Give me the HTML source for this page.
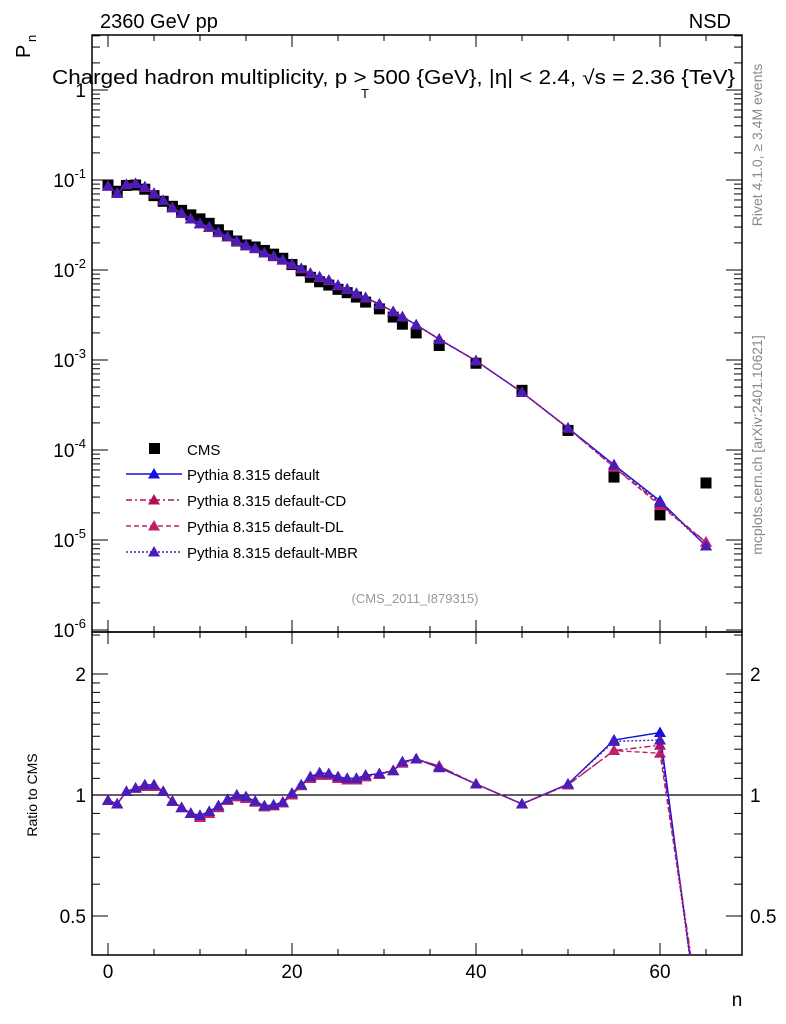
<!DOCTYPE html>
<html><head><meta charset="utf-8"><style>
html,body{margin:0;padding:0;background:#fff;width:786px;height:1024px;overflow:hidden}
svg{display:block;font-family:"Liberation Sans",sans-serif}
</style></head><body>
<svg id="c" width="786" height="1024" viewBox="0 0 786 1024" xmlns="http://www.w3.org/2000/svg"></svg>
<script>
const nBins=[0,1,2,3,4,5,6,7,8,9,10,11,12,13,14,15,16,17,18,19,20,21,22,23,24,25,26,27,28,29.5,31,32,33.5,36,40,45,50,55,60,65];
const cmsVals=[0.088,0.075,0.087,0.088,0.079,0.067,0.058,0.051,0.046,0.041,0.037,0.033,0.028,0.024,0.021,0.019,0.018,0.0165,0.015,0.0135,0.0115,0.0098,0.0083,0.0074,0.0068,0.0061,0.0056,0.0050,0.0044,0.0037,0.0030,0.0025,0.0020,0.00145,0.00092,0.00046,0.000165,0.000050,0.000019,0.000043];
const ratioDefault=[0.97,0.95,1.02,1.04,1.06,1.06,1.02,0.965,0.93,0.90,0.89,0.91,0.94,0.975,1.0,0.99,0.965,0.94,0.945,0.96,1.01,1.06,1.11,1.135,1.13,1.11,1.10,1.10,1.12,1.13,1.15,1.21,1.23,1.17,1.065,0.95,1.065,1.37,1.43,0.20];
const ratioCD=[0.97,0.95,1.02,1.04,1.05,1.05,1.02,0.965,0.93,0.90,0.88,0.90,0.93,0.97,0.99,0.98,0.96,0.935,0.94,0.955,1.0,1.055,1.10,1.12,1.12,1.10,1.09,1.09,1.11,1.125,1.15,1.20,1.23,1.18,1.065,0.95,1.06,1.29,1.33,0.22];
const ratioDL=[0.97,0.95,1.02,1.04,1.05,1.05,1.02,0.965,0.93,0.90,0.88,0.90,0.93,0.97,0.99,0.98,0.96,0.935,0.94,0.955,1.0,1.055,1.10,1.12,1.12,1.10,1.09,1.09,1.11,1.125,1.15,1.20,1.23,1.18,1.065,0.95,1.06,1.29,1.27,0.22];
const ratioMBR=[0.97,0.95,1.02,1.04,1.06,1.06,1.02,0.965,0.93,0.90,0.89,0.91,0.94,0.975,1.0,0.99,0.965,0.94,0.945,0.96,1.01,1.06,1.11,1.135,1.13,1.11,1.10,1.10,1.12,1.13,1.15,1.21,1.23,1.17,1.065,0.95,1.065,1.36,1.37,0.20];
const xTicks=[0,20,40,60];
const mainTickExps=[0,-1,-2,-3,-4,-5,-6];
const ratioTicks=[0.5,1,2];

const NS="http://www.w3.org/2000/svg";
const svg=document.getElementById('c');
const L=92,R=742,T=35,MB=632,RB=955;
const xs=n=>108+n*9.2;
const ym=v=>90-90*Math.log10(v);
const yr=r=>795-121*Math.log2(r);
function el(t,a,p){const e=document.createElementNS(NS,t);for(const k in a)e.setAttribute(k,a[k]);(p||svg).appendChild(e);return e;}
function txt(x,y,s,a,p){const e=el('text',Object.assign({x:x,y:y},a||{}),p);e.textContent=s;return e;}

const defs=el('defs',{});
const c1=el('clipPath',{id:'cm'},defs);el('rect',{x:L,y:T,width:R-L,height:MB-T},c1);
const c2=el('clipPath',{id:'cr'},defs);el('rect',{x:L,y:MB,width:R-L,height:RB-MB},c2);

let f=el('rect',{x:L,y:T,width:R-L,height:MB-T,fill:'none',stroke:'#000','stroke-width':1.5});

f=el('rect',{x:L,y:MB,width:R-L,height:RB-MB,fill:'none',stroke:'#000','stroke-width':1.5});


for(let n=0;n<=65;n+=5){
  const x=xs(n),len=(n%20===0)?12:6;
  for(const [a,b] of [[T,MB],[MB,RB]]){
    el('line',{x1:x,y1:b,x2:x,y2:b-len,stroke:'#000'});
    el('line',{x1:x,y1:a,x2:x,y2:a+len,stroke:'#000'});
  }
}
xTicks.forEach(n=>{const t=txt(xs(n),978,String(n),{'font-size':19,'text-anchor':'middle'});
});
let t=txt(737,1006,'n',{'font-size':19,'text-anchor':'middle'});


for(let e=-6;e<=0;e++){
  for(let m=1;m<10;m++){
    const y=ym(m*Math.pow(10,e));if(y<T||y>MB)continue;
    const len=m===1?16:8;
    el('line',{x1:L,y1:y,x2:L+len,y2:y,stroke:'#000'});
    el('line',{x1:R,y1:y,x2:R-len,y2:y,stroke:'#000'});
  }
}
mainTickExps.forEach(e=>{
  const y=ym(Math.pow(10,e));
  let lab;
  if(e===0){lab=txt(86,y+7,'1',{'font-size':19,'text-anchor':'end'});}
  else{lab=el('text',{x:86,y:y+7,'font-size':19,'text-anchor':'end'});
    const a=el('tspan',{},lab);a.textContent='10';
    const b=el('tspan',{dy:-9,'font-size':13},lab);b.textContent=String(e);}
  
});
t=txt(0,0,'P',{'font-size':20,transform:'translate(30,58) rotate(-90)'});

txt(0,0,'n',{'font-size':13,transform:'translate(36,42) rotate(-90)'});

for(const r of [0.4,0.5,0.6,0.7,0.8,0.9,1,1.1,1.2,1.3,1.4,1.5,1.6,1.7,1.8,1.9,2,2.5]){
  const y=yr(r);if(y<MB||y>RB)continue;
  const len=(r===0.5||r===1||r===2)?16:8;
  el('line',{x1:L,y1:y,x2:L+len,y2:y,stroke:'#000'});
  el('line',{x1:R,y1:y,x2:R-len,y2:y,stroke:'#000'});
}
ratioTicks.forEach(r=>{
  const s=String(r);
  let a=txt(86,yr(r)+7,s,{'font-size':19,'text-anchor':'end'});
  
  a=txt(750,yr(r)+7,s,{'font-size':19});
  
});
t=txt(0,0,'Ratio to CMS',{'font-size':14,'text-anchor':'middle',transform:'translate(37,795) rotate(-90)'});

el('line',{x1:L,y1:yr(1),x2:R,y2:yr(1),stroke:'#000','stroke-width':1.2});

t=txt(100,28,'2360 GeV pp',{'font-size':20});
t=txt(731,28,'NSD',{'font-size':20,'text-anchor':'end'});
t=txt(52,84,'Charged hadron multiplicity, p  > 500 {GeV}, |η| < 2.4, √s = 2.36 {TeV}',{'font-size':20,textLength:683,lengthAdjust:'spacingAndGlyphs'});

txt(361,98,'T',{'font-size':13});
t=txt(415,603,'(CMS_2011_I879315)',{'font-size':13,fill:'#999','text-anchor':'middle'});

t=txt(0,0,'Rivet 4.1.0, ≥ 3.4M events',{'font-size':14,fill:'#888','text-anchor':'middle',transform:'translate(762,145) rotate(-90)'});

t=txt(0,0,'mcplots.cern.ch [arXiv:2401.10621]',{'font-size':14,fill:'#888','text-anchor':'middle',transform:'translate(762,445) rotate(-90)'});


const series=[
 {name:'pythia-default',label:'Pythia 8.315 default',r:ratioDefault,c:'#1010e0',d:''},
 {name:'pythia-default-cd',label:'Pythia 8.315 default-CD',r:ratioCD,c:'#b0105a',d:'6,3,2,3'},
 {name:'pythia-default-dl',label:'Pythia 8.315 default-DL',r:ratioDL,c:'#c0206a',d:'5,3'},
 {name:'pythia-default-mbr',label:'Pythia 8.315 default-MBR',r:ratioMBR,c:'#4a1cb8',d:'2,2'}
];
function tri(g,x,y,c){return el('path',{d:`M${x},${y-6}L${x+6},${y+4.5}L${x-6},${y+4.5}Z`,fill:c},g);}

const gc=el('g',{'clip-path':'url(#cm)'});

nBins.forEach((n,i)=>{const r=el('rect',{x:xs(n)-5.5,y:ym(cmsVals[i])-5.5,width:11,height:11,fill:'#000'},gc);
});

[0,1,2,3].forEach(k=>{
  const s=series[k];
  const g=el('g',{'clip-path':'url(#cm)'});
  
  const pts=nBins.map((n,i)=>[xs(n),ym(cmsVals[i]*s.r[i])]);
  el('polyline',{points:pts.map(p=>p.join(',')).join(' '),fill:'none',stroke:s.c,'stroke-width':1.4,'stroke-dasharray':s.d},g);
  pts.forEach(p=>tri(g,p[0],p[1],s.c));
  const g2=el('g',{'clip-path':'url(#cr)'});
  
  const rp=nBins.map((n,i)=>[xs(n),yr(s.r[i])]);
  el('polyline',{points:rp.map(p=>p.join(',')).join(' '),fill:'none',stroke:s.c,'stroke-width':1.4,'stroke-dasharray':s.d},g2);
  rp.forEach(p=>tri(g2,p[0],p[1],s.c));
});

const lg=el('g',{});
el('rect',{x:149,y:443,width:11,height:11,fill:'#000'},lg);
t=txt(187,455,'CMS',{'font-size':15},lg);
series.forEach((s,i)=>{
  const y=474+i*26;
  el('line',{x1:126,y1:y,x2:182,y2:y,stroke:s.c,'stroke-width':1.4,'stroke-dasharray':s.d},lg);
  tri(lg,154,y,s.c);
  const tt=txt(187,y+6,s.label,{'font-size':15},lg);
  
});
</script>
</body></html>
